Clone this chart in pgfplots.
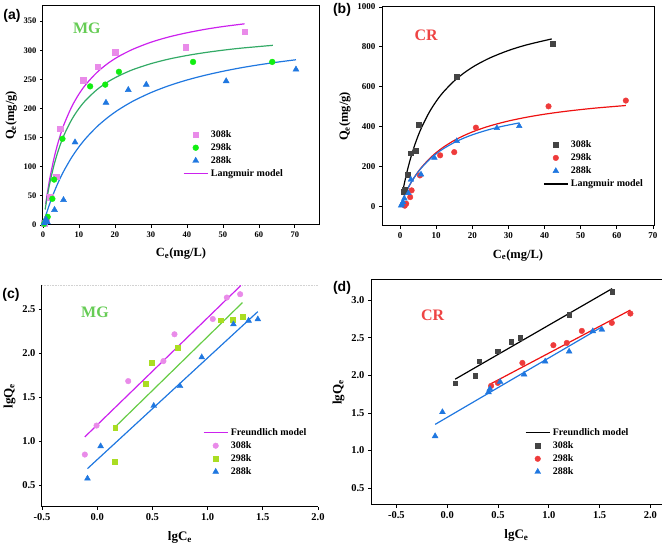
\documentclass[border=0pt]{standalone}
\usepackage{pgfplots}
\pgfplotsset{compat=1.18}
\usepackage{fontspec}
\setmainfont{Liberation Serif}
\setsansfont{Liberation Sans}

\definecolor{pinkm}{HTML}{E98BE9}
\definecolor{magl}{HTML}{CC22EE}
\definecolor{grnm}{HTML}{11EE11}
\definecolor{grnl}{HTML}{33AA66}
\definecolor{bluem}{HTML}{1F77E0}
\definecolor{redm}{HTML}{EE3B3B}
\definecolor{redl}{HTML}{EE1111}
\definecolor{grym}{HTML}{444444}
\definecolor{ygrn}{HTML}{AADD22}
\definecolor{grnl2}{HTML}{66CC44}
\definecolor{mgtxt}{HTML}{66CC55}
\definecolor{crtxt}{HTML}{EE4444}

\pgfplotsset{
  legline/.style={legend image code/.code={\draw[mark repeat=2,mark phase=2,##1] plot coordinates {(0pt,0pt)(12pt,0pt)(24pt,0pt)};}},
  panel/.style={
    scale only axis, anchor=south west,
    tick align=outside, major tick length=3pt,
    xtick pos=bottom, ytick pos=left,
    axis line style={line width=1pt},
    every tick/.style={line width=0.8pt, black},
    /pgf/number format/assume math mode=true,
    /pgf/number format/set thousands separator={},
    label style={font=\bfseries\fontsize{12.5}{14}\selectfont},
    xlabel style={yshift=-4pt},
    legend style={draw=none, fill=none, inner sep=0pt, anchor=north west,
      font=\bfseries\fontsize{10}{11}\selectfont,
      row sep=3pt, column sep=2pt,
      nodes={inner sep=0.5pt, text height=7pt, text depth=2pt}},
    legend cell align=left,
  },
  onedec/.style={/pgf/number format/.cd, fixed, fixed zerofill, precision=1},
}

\begin{document}
\begin{tikzpicture}
\useasboundingbox (0,0) rectangle (662pt,551pt);

% ---------------- (a) ----------------
\begin{axis}[panel, at={(43pt,326pt)}, width=276pt, height=219pt,
  xmin=0, xmax=76.7, ymin=0, ymax=376,
  xtick={0,10,...,70}, ytick={0,50,...,350},
  tick label style={font=\bfseries\fontsize{8.5}{9}\selectfont},
  xlabel={C\textsubscript{e}(mg/L)}, ylabel={Q\textsubscript{e}(mg/g)},
  legend style={at={(0.507,0.436)}}]
\addlegendimage{only marks, mark=square*, mark size=2.8pt, color=pinkm, legline}
\addlegendentry{308k}
\addlegendimage{only marks, mark=*, mark size=2.9pt, color=grnm, legline}
\addlegendentry{298k}
\addlegendimage{only marks, mark=triangle*, mark size=3.5pt, color=bluem, legline}
\addlegendentry{288k}
\addlegendimage{magl, line width=1.2pt, legline}
\addlegendentry{Langmuir model}
\addplot[forget plot, magl, line width=1.2pt, smooth] coordinates {
(0.74,35.6)(1,46.6)(1.5,66.0)(2,83.3)(3,113.0)(4,137.4)(5,157.8)(6,175.2)(8,203.3)(10,224.9)(12,242.0)(15,262.0)(18,277.3)(21,289.3)(25,301.8)(30,313.8)(35,322.9)(40,330.0)(45,335.9)(50,340.7)(56,345.4)};
\addplot[forget plot, grnl, line width=1.2pt, smooth] coordinates {
(0.6,26.6)(1,42.1)(1.5,59.5)(2,75.0)(3,101.4)(4,123.1)(5,141.2)(6,156.6)(8,181.2)(10,200.1)(12,215.0)(15,232.4)(18,245.6)(21,255.9)(25,266.8)(30,277.0)(35,284.9)(40,291.0)(45,296.0)(50,300.1)(55,303.6)(63.9,308.5)};
\addplot[forget plot, bluem, line width=1.2pt, smooth] coordinates {
(0.5,10.6)(1,20.6)(2,38.8)(3,55.2)(4,69.9)(5,83.2)(6,95.2)(8,116.4)(10,134.2)(12,149.5)(15,168.8)(18,184.6)(21,197.9)(25,212.6)(30,227.3)(35,239.2)(40,248.9)(45,257.0)(50,263.9)(55,269.9)(60,275.0)(65,279.5)(70.3,283.7)};
\addplot[forget plot, only marks, mark=square*, mark size=2.8pt, color=pinkm] coordinates {
(0.4,3)(1.0,10)(2.0,48)(3.7,83)(4.8,165)(11.1,249)(15.2,272)(20.1,297)(39.6,305)(56.1,332)};
\addplot[forget plot, only marks, mark=*, mark size=2.9pt, color=grnm] coordinates {
(0.3,2)(0.7,7)(1.3,14)(2.6,45)(3.1,78)(5.4,148)(13.1,238)(17.3,241)(21.1,263)(41.7,280)(63.7,280)};
\addplot[forget plot, only marks, mark=triangle*, mark size=3.5pt, color=bluem] coordinates {
(0.3,3)(0.8,10)(1.2,5)(3.2,26)(5.7,43)(8.9,142)(17.5,210)(23.7,232)(28.7,241)(50.9,247)(70.3,267)};
\node[font=\bfseries\fontsize{16}{18}\selectfont, text=mgtxt] at (rel axis cs:0.159,0.9) {MG};
\end{axis}

% ---------------- (b) ----------------
\begin{axis}[panel, at={(382pt,325pt)}, width=272pt, height=219pt,
  xmin=-5, xmax=70.3, ymin=-100, ymax=1000,
  xtick={0,10,...,70}, ytick={0,200,...,1000},
  tick label style={font=\bfseries\fontsize{9}{10}\selectfont},
  xlabel={C\textsubscript{e}(mg/L)}, ylabel={Q\textsubscript{e}(mg/g)},
  legend style={at={(0.592,0.394)}}]
\addlegendimage{only marks, mark=square*, mark size=2.4pt, color=grym, legline}
\addlegendentry{308k}
\addlegendimage{only marks, mark=*, mark size=2.8pt, color=redm, legline}
\addlegendentry{298k}
\addlegendimage{only marks, mark=triangle*, mark size=3.3pt, color=bluem, legline}
\addlegendentry{288k}
\addlegendimage{black, line width=1.2pt, legline}
\addlegendentry{Langmuir model}
\addplot[forget plot, black, line width=1.2pt, smooth] coordinates {
(0.7,70.0)(0.9,88.3)(1.2,114.5)(1.6,147.2)(2,177.7)(2.5,212.9)(3,245.4)(4,303.2)(5,353.1)(6,396.5)(8,468.7)(10,526.1)(12,573.0)(15,628.9)(18,672.6)(21,707.9)(25,745.3)(30,781.5)(35,809.6)(42,839.7)};
\addplot[forget plot, redl, line width=1.2pt, smooth] coordinates {
(1.2,52.8)(1.5,64.5)(2,83.1)(3,116.7)(4,146.2)(5,172.3)(6,195.7)(8,235.6)(10,268.5)(12,296.0)(15,329.8)(18,356.9)(21,379.3)(25,403.5)(30,427.3)(35,446.2)(40,461.5)(45,474.1)(50,484.7)(55,493.8)(62.5,505.1)};
\addplot[forget plot, bluem, line width=1.2pt, smooth] coordinates {
(0.5,23.6)(1,45.3)(1.5,65.4)(2,83.9)(3,117.1)(4,145.9)(5,171.3)(6,193.8)(8,231.7)(10,262.6)(12,288.2)(15,319.3)(18,344.1)(21,364.2)(25,386.0)(29,403.4)(33,417.7)};
\addplot[forget plot, only marks, mark=square*, mark size=2.4pt, color=grym] coordinates {
(1.0,72)(1.3,82)(2.1,158)(3.0,266)(4.3,280)(5.1,409)(15.7,648)(42.2,815)};
\addplot[forget plot, only marks, mark=*, mark size=2.8pt, color=redm] coordinates {
(1.3,2)(1.7,12)(2.8,45)(3.2,79)(5.5,154)(11.1,255)(15.0,271)(21.0,394)(41.1,501)(62.5,530)};
\addplot[forget plot, only marks, mark=triangle*, mark size=3.3pt, color=bluem] coordinates {
(0.3,3)(0.5,9)(0.8,20)(1.2,38)(2.3,65)(3.0,133)(5.8,159)(9.5,243)(15.7,327)(26.8,392)(33.0,402)};
\node[font=\bfseries\fontsize{16}{18}\selectfont, text=crtxt] at (rel axis cs:0.162,0.871) {CR};
\end{axis}

% ---------------- (c) ----------------
\begin{axis}[panel, at={(42pt,44pt)}, width=276pt, height=222pt,
  axis line style={draw=none}, clip=false,
  xmin=-0.5, xmax=2.0, ymin=0.253, ymax=2.78,
  xtick={-0.5,0,...,2.0}, ytick={0.5,1.0,...,2.5},
  xticklabel style={onedec}, yticklabel style={onedec},
  tick label style={font=\bfseries\fontsize{10.5}{12}\selectfont},
  xlabel={lgC\textsubscript{e}}, ylabel={lgQ\textsubscript{e}},
  label style={font=\bfseries\fontsize{13}{15}\selectfont},
  legend style={at={(0.583,0.358)}}]
\draw[line width=1pt] (rel axis cs:0,1) -- (rel axis cs:0,0) -- (rel axis cs:1,0);
\draw[gray!35, line width=0.6pt, densely dotted] (rel axis cs:0,1) -- (rel axis cs:1,1);
\addlegendimage{magl, line width=1.2pt, legline}
\addlegendentry{Freundlich model}
\addlegendimage{only marks, mark=*, mark size=2.8pt, color=pinkm, legline}
\addlegendentry{308k}
\addlegendimage{only marks, mark=square*, mark size=2.4pt, color=ygrn, legline}
\addlegendentry{298k}
\addlegendimage{only marks, mark=triangle*, mark size=3.4pt, color=bluem, legline}
\addlegendentry{288k}
\addplot[forget plot, magl, line width=1.2pt] coordinates {(-0.112,1.051)(1.301,2.774)};
\addplot[forget plot, grnl2, line width=1.2pt] coordinates {(0.163,1.165)(1.316,2.58)};
\addplot[forget plot, bluem, line width=1.2pt] coordinates {(-0.088,0.69)(1.455,2.477)};
\addplot[forget plot, only marks, mark=*, mark size=2.8pt, color=pinkm] coordinates {
(-0.112,0.85)(-0.006,1.18)(0.281,1.686)(0.60,1.914)(0.70,2.219)(1.047,2.393)(1.174,2.637)(1.295,2.675)};
\addplot[forget plot, only marks, mark=square*, mark size=2.4pt, color=ygrn] coordinates {
(0.16,0.77)(0.163,1.158)(0.442,1.66)(0.496,1.895)(0.729,2.07)(1.116,2.379)(1.229,2.382)(1.316,2.42)};
\addplot[forget plot, only marks, mark=triangle*, mark size=3.4pt, color=bluem] coordinates {
(-0.088,0.577)(0.031,0.945)(0.512,1.405)(0.75,1.63)(0.947,1.957)(1.234,2.333)(1.371,2.374)(1.455,2.39)};
\node[font=\bfseries\fontsize{16}{18}\selectfont, text=mgtxt] at (rel axis cs:0.192,0.875) {MG};
\end{axis}

% ---------------- (d) ----------------
\begin{axis}[panel, at={(371pt,46pt)}, width=291pt, height=225pt,
  axis line style={draw=none}, clip=false,
  xmin=-0.75, xmax=2.114, ymin=0.274, ymax=3.27,
  xtick={-0.5,0,...,2.0}, ytick={0.5,1.0,...,3.0},
  xticklabel style={onedec}, yticklabel style={onedec},
  tick label style={font=\bfseries\fontsize{10.5}{12}\selectfont},
  xlabel={lgC\textsubscript{e}}, ylabel={lgQ\textsubscript{e}},
  label style={font=\bfseries\fontsize{13}{15}\selectfont},
  legend style={at={(0.529,0.344)}}]
\draw[line width=1pt] (rel axis cs:1,1) -- (rel axis cs:0,1) -- (rel axis cs:0,0) -- (rel axis cs:1,0);
\addlegendimage{black, line width=1.2pt, legline}
\addlegendentry{Freundlich model}
\addlegendimage{only marks, mark=square*, mark size=2.4pt, color=grym, legline}
\addlegendentry{308k}
\addlegendimage{only marks, mark=*, mark size=2.8pt, color=redm, legline}
\addlegendentry{298k}
\addlegendimage{only marks, mark=triangle*, mark size=3.4pt, color=bluem, legline}
\addlegendentry{288k}
\addplot[forget plot, black, line width=1.2pt] coordinates {(0.078,1.949)(1.623,3.155)};
\addplot[forget plot, redl, line width=1.2pt] coordinates {(0.432,1.89)(1.803,2.87)};
\addplot[forget plot, bluem, line width=1.2pt] coordinates {(-0.119,1.347)(1.522,2.645)};
\addplot[forget plot, only marks, mark=square*, mark size=2.4pt, color=grym] coordinates {
(0.078,1.896)(0.275,1.994)(0.314,2.189)(0.498,2.322)(0.629,2.446)(0.718,2.504)(1.200,2.809)(1.623,3.111)};
\addplot[forget plot, only marks, mark=*, mark size=2.8pt, color=redm] coordinates {
(0.432,1.860)(0.498,1.900)(0.740,2.166)(1.045,2.402)(1.177,2.432)(1.325,2.592)(1.620,2.699)(1.803,2.823)};
\addplot[forget plot, only marks, mark=triangle*, mark size=3.4pt, color=bluem] coordinates {
(-0.119,1.191)(-0.047,1.511)(0.406,1.777)(0.42,1.82)(0.521,1.914)(0.757,2.012)(0.964,2.185)(1.200,2.318)(1.433,2.588)(1.522,2.610)};
\node[font=\bfseries\fontsize{16}{18}\selectfont, text=crtxt] at (rel axis cs:0.212,0.844) {CR};
\end{axis}

% panel letters
\node[font=\sffamily\bfseries\fontsize{14}{16}\selectfont] at (12pt,535.5pt) {(a)};
\node[font=\sffamily\bfseries\fontsize{14}{16}\selectfont] at (342pt,541pt) {(b)};
\node[font=\sffamily\bfseries\fontsize{14}{16}\selectfont] at (11pt,256pt) {(c)};
\node[font=\sffamily\bfseries\fontsize{14}{16}\selectfont] at (342pt,263pt) {(d)};
\end{tikzpicture}
\end{document}
